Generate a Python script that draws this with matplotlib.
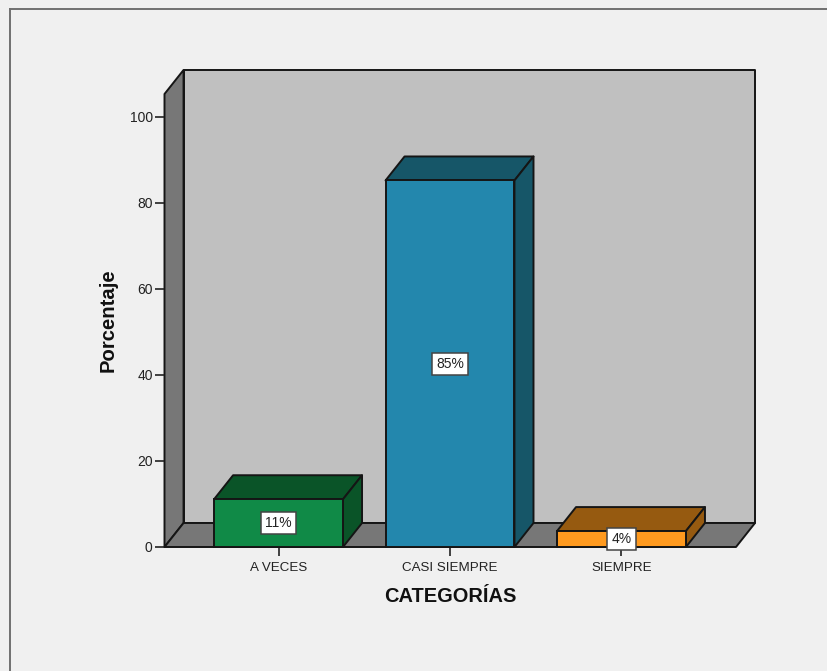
import matplotlib
matplotlib.use("Agg")
import matplotlib.pyplot as plt
from matplotlib.lines import Line2D

categorias = ["A VECES", "CASI SIEMPRE", "SIEMPRE"]
porcentajes = [11.1, 85.2, 3.7]
etiquetas = ["11%", "85%", "4%"]
yticks = [0, 20, 40, 60, 80, 100]

color_frente = ["#108a47", "#2387ad", "#ff9a1f"]
color_sombra = ["#0a5428", "#165668", "#965a10"]
color_borde = "#151515"

W, H = 828, 671
ancho = 0.752
prof_x = 0.111  # profundidad 3D en unidades de datos
prof_y = 5.58

plt.rcParams["font.family"] = ["Liberation Sans", "DejaVu Sans"]
fig = plt.figure(figsize=(W / 100, H / 100), dpi=100, facecolor="#f0f0f0")
ax = fig.add_axes([164.5 / W, 1 - 547 / H, (736 - 164.5) / W, (547 - 94) / H])
ax.patch.set_visible(False)
ax.set_xlim(-0.665, 2.668)
ax.set_ylim(0, 105.3)
for s in ax.spines.values():
    s.set_visible(False)

x0, x1 = ax.get_xlim()
y0, y1 = ax.get_ylim()


def cara(xs, ys, color, z):
    ax.fill(xs, ys, facecolor=color, edgecolor=color_borde, linewidth=1.4,
            clip_on=False, zorder=z, joinstyle="round")


# paredes y piso
cara([x0 + prof_x, x1 + prof_x, x1 + prof_x, x0 + prof_x],
     [y0 + prof_y, y0 + prof_y, y1 + prof_y, y1 + prof_y], "#c0c0c0", 1)
cara([x0, x0 + prof_x, x0 + prof_x, x0],
     [y0, y0 + prof_y, y1 + prof_y, y1], "#777777", 1.1)
cara([x0, x1, x1 + prof_x, x0 + prof_x],
     [y0, y0, y0 + prof_y, y0 + prof_y], "#777777", 1.1)

# barras
for i, v in enumerate(porcentajes):
    a = i - ancho / 2
    b = i + ancho / 2
    cara([a, b, b + prof_x, a + prof_x], [v, v, v + prof_y, v + prof_y], color_sombra[i], 2)
    cara([b, b + prof_x, b + prof_x, b], [0, prof_y, v + prof_y, v], color_sombra[i], 2)
    ax.bar(i, v, width=ancho, color=color_frente[i], edgecolor=color_borde,
           linewidth=1.4, clip_on=False, zorder=3)
    ax.text(i, v / 2, etiquetas[i], ha="center", va="center", fontsize=10, color="#222222",
            zorder=5, bbox=dict(boxstyle="square,pad=0.3", facecolor="white",
                                edgecolor="#444444", linewidth=1.1))

ax.set_xticks(range(len(categorias)))
ax.set_xticklabels(categorias, fontsize=9.6, color="#222222")
ax.set_yticks(yticks)
ax.tick_params(axis="x", length=6.5, width=1.2, color="#222222", pad=4.5)
ax.tick_params(axis="y", length=6.5, width=1.2, color="#222222", pad=2, labelsize=10, labelcolor="#222222")

fig.text(450 / W, 1 - 597 / H, "CATEGORÍAS", ha="center", va="center",
         fontsize=14.4, fontweight="bold", color="#111111")
fig.text(108 / W, 1 - 320.5 / H, "Porcentaje", ha="center", va="center", rotation=90,
         fontsize=14.6, fontweight="bold", color="#111111")

# marco exterior (cortado a la derecha y abajo)
fig.add_artist(Line2D([10 / W, 10 / W], [0, 1 - 9 / H], color="#707070", linewidth=1.4))
fig.add_artist(Line2D([10 / W, 1], [1 - 9 / H, 1 - 9 / H], color="#707070", linewidth=1.4))

fig.savefig("out.png", dpi=100, facecolor=fig.get_facecolor())
